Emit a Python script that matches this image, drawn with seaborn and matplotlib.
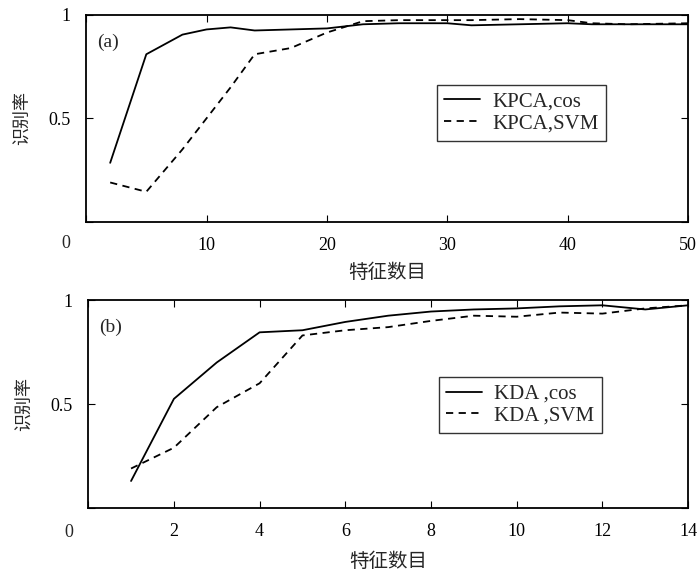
import pandas as pd
import seaborn as sns
import matplotlib.pyplot as plt

# (a) KPCA
kpca_x = [2, 5, 8, 10, 12, 14, 17, 20, 23, 26, 30, 32, 36, 40, 42, 45, 50]
kpca_cos = [0.285, 0.81, 0.905, 0.93, 0.94, 0.925, 0.93, 0.935, 0.955, 0.96, 0.96, 0.95, 0.955, 0.96, 0.955, 0.955, 0.955]
kpca_svm = [0.19, 0.145, 0.35, 0.50, 0.65, 0.81, 0.84, 0.915, 0.97, 0.975, 0.975, 0.975, 0.98, 0.975, 0.96, 0.955, 0.96]

# (b) KDA
kda_x = [1, 2, 3, 4, 5, 6, 7, 8, 9, 10, 11, 12, 13, 14]
kda_cos = [0.13, 0.525, 0.70, 0.845, 0.855, 0.895, 0.925, 0.945, 0.955, 0.96, 0.97, 0.975, 0.955, 0.975]
kda_svm = [0.19, 0.29, 0.485, 0.60, 0.83, 0.855, 0.87, 0.90, 0.925, 0.92, 0.94, 0.935, 0.96, 0.975]

sns.set_style("ticks")
plt.rcParams['font.family'] = ['Liberation Serif', 'Noto Sans CJK SC', 'DejaVu Sans']
cjk = ['Noto Sans CJK SC', 'DejaVu Sans']

df_a = pd.DataFrame({'x': kpca_x * 2,
                     'y': kpca_cos + kpca_svm,
                     'method': ['KPCA,cos'] * len(kpca_x) + ['KPCA,SVM'] * len(kpca_x)})
df_b = pd.DataFrame({'x': kda_x * 2,
                     'y': kda_cos + kda_svm,
                     'method': ['KDA ,cos'] * len(kda_x) + ['KDA ,SVM'] * len(kda_x)})

fig = plt.figure(figsize=(7, 5.76), dpi=100)
ax1 = fig.add_axes([0.123, 0.615, 0.860, 0.359])
ax2 = fig.add_axes([0.126, 0.118, 0.857, 0.361])

panels = [(ax1, df_a, 50, [0, 10, 20, 30, 40, 50], '(a)', (0.583, 0.662), 14, -0.105),
          (ax2, df_b, 14, [0, 2, 4, 6, 8, 10, 12, 14], '(b)', (0.585, 0.63), 16, -0.12)]

for ax, df, xmax, xt, tag, anchor, xpad, zy in panels:
    sns.lineplot(data=df, x='x', y='y', style='method', color='black',
                 linewidth=1.3, dashes=[(None, None), (4, 3)], ax=ax)
    ax.set_xlim(0, xmax)
    ax.set_ylim(0, 1)
    ax.set_xticks(xt)
    ax.set_xticklabels([''] + [str(v) for v in xt[1:]])
    ax.set_yticks([0, 0.5, 1])
    ax.set_yticklabels(['', '0.5', '1'])
    ax.tick_params(direction='in', top=True, right=True, length=5,
                   labelsize=13, pad=11, colors='black')
    for s in ax.spines.values():
        s.set_linewidth(1.3)
        s.set_color('black')
    # shared zero at the lower-left corner
    ax.text(-0.033, zy, '0', transform=ax.transAxes, fontsize=13,
            ha='center', va='center')
    ax.set_xlabel('特征数目', family=cjk, fontsize=14, labelpad=xpad - 8)
    ax.set_ylabel('识别率', family=cjk, fontsize=13)
    ax.yaxis.set_label_coords(-0.09, 0.5)
    ax.text(0.018, 0.87, tag, transform=ax.transAxes, fontsize=14, va='center')
    leg = ax.legend(loc='upper left', bbox_to_anchor=anchor, fontsize=15,
                    handlelength=1.7, handletextpad=0.6, frameon=True,
                    fancybox=False, borderpad=0.35, labelspacing=0.1,
                    borderaxespad=0, title=None)
    leg.get_frame().set_edgecolor('black')
    leg.get_frame().set_linewidth(1.0)

fig.savefig('out.png', dpi=100)
